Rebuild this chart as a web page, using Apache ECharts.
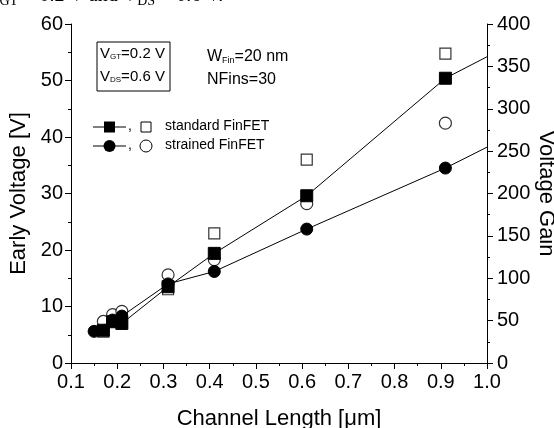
<!DOCTYPE html>
<html>
<head>
<meta charset="utf-8">
<script src="https://cdn.jsdelivr.net/npm/echarts@6/dist/echarts.min.js"></script>
<style>
  html, body { margin: 0; padding: 0; background: #fff; }
  #chart { width: 554px; height: 428px; }
</style>
</head>
<body>
<div id="chart"></div>
<script>
var stdEarlyX = [0.17, 0.19, 0.21, 0.31, 0.41, 0.61, 0.91, 1.0];
var stdEarlyV = [5.8, 7.3, 7.0, 13.5, 19.4, 29.6, 50.4, 54.2];
var strEarlyX = [0.15, 0.19, 0.21, 0.31, 0.41, 0.61, 0.91, 1.0];
var strEarlyV = [5.6, 7.6, 8.3, 14.0, 16.2, 23.7, 34.5, 38.2];
var stdGainX = [0.17, 0.21, 0.31, 0.41, 0.61, 0.91];
var stdGainV = [37, 49, 87, 153, 240, 365];
var strGainX = [0.17, 0.19, 0.21, 0.31, 0.41, 0.61, 0.91];
var strGainV = [49, 57, 61, 104, 122, 188, 283];

var FONT = 'Liberation Sans';

function pairs(xs, ys, lastNoSymbol) {
    var out = [];
    for (var i = 0; i < xs.length; i++) {
        var p = { value: [xs[i], ys[i]] };
        if (lastNoSymbol && i === xs.length - 1) p.symbol = 'none';
        out.push(p);
    }
    return out;
}

var chart = echarts.init(document.getElementById('chart'));
var axisLine = { lineStyle: { color: '#000', width: 1 } };
var tickOut = { show: true, inside: false, length: 6, lineStyle: { color: '#000' } };
var minorOut = { show: true, splitNumber: 2, length: 3, lineStyle: { color: '#000' } };
var labelStyle = { color: '#000', fontSize: 20, fontFamily: FONT };
var nameStyle = { color: '#000', fontSize: 22, fontFamily: FONT };

var option = {
    animation: false,
    backgroundColor: '#fff',
    grid: { left: 71, right: 67, top: 24, bottom: 65, containLabel: false, outerBoundsMode: 'none' },
    xAxis: [{
        type: 'value', position: 'bottom', min: 0.1, max: 1.0, interval: 0.1,
        name: 'Channel Length [\u03bcm]', nameLocation: 'middle', nameGap: 45,
        nameTextStyle: nameStyle,
        axisLine: axisLine, axisTick: tickOut, minorTick: minorOut,
        axisLabel: Object.assign({ margin: 9, formatter: function (v) { return v.toFixed(1); } }, labelStyle),
        splitLine: { show: false }
    }, {
        type: 'value', position: 'top', min: 0.1, max: 1.0, interval: 0.1,
        axisLine: axisLine,
        axisTick: { show: true, inside: true, length: 5, lineStyle: { color: '#000' } },
        minorTick: { show: true, splitNumber: 2, length: 3, lineStyle: { color: '#000' } },
        axisLabel: { show: false }, splitLine: { show: false }
    }],
    yAxis: [{
        type: 'value', position: 'left', min: 0, max: 60, interval: 10,
        name: 'Early Voltage [V]', nameLocation: 'middle', nameGap: 36, nameRotate: 90,
        nameTextStyle: nameStyle,
        axisLine: axisLine, axisTick: tickOut, minorTick: minorOut,
        axisLabel: Object.assign({ margin: 8 }, labelStyle),
        splitLine: { show: false }
    }, {
        type: 'value', position: 'right', min: 0, max: 400, interval: 50,
        name: 'Voltage Gain', nameLocation: 'middle', nameGap: 48, nameRotate: -90,
        nameMoveOverlap: false,
        nameTextStyle: nameStyle,
        axisLine: axisLine, axisTick: tickOut, minorTick: minorOut,
        axisLabel: Object.assign({ margin: 10 }, labelStyle),
        splitLine: { show: false }
    }],
    series: [{
        name: 'standard FinFET Early', type: 'line', xAxisIndex: 0, yAxisIndex: 0,
        data: pairs(stdEarlyX, stdEarlyV, true),
        symbol: 'rect', symbolSize: 12, showAllSymbol: true,
        lineStyle: { color: '#000', width: 1 },
        itemStyle: { color: '#000', borderColor: '#000' }
    }, {
        name: 'strained FinFET Early', type: 'line', xAxisIndex: 0, yAxisIndex: 0,
        data: pairs(strEarlyX, strEarlyV, true),
        symbol: 'circle', symbolSize: 12, showAllSymbol: true,
        lineStyle: { color: '#000', width: 1 },
        itemStyle: { color: '#000', borderColor: '#000' }
    }, {
        name: 'standard FinFET Gain', type: 'scatter', xAxisIndex: 0, yAxisIndex: 1,
        data: pairs(stdGainX, stdGainV, false),
        symbol: 'rect', symbolSize: 11,
        itemStyle: { color: '#fff', borderColor: '#000', borderWidth: 1.2 }
    }, {
        name: 'strained FinFET Gain', type: 'scatter', xAxisIndex: 0, yAxisIndex: 1,
        data: pairs(strGainX, strGainV, false),
        symbol: 'circle', symbolSize: 12,
        itemStyle: { color: '#fff', borderColor: '#000', borderWidth: 1.2 }
    }],
    graphic: [
        // caption cut off at the top of the picture
        {
            type: 'text', left: -15, top: -14,
            style: {
                text: 'V{s|GT} = 0.2 V and V{s|DS} = 0.6 V.',
                font: '20px "Liberation Serif"', fill: '#000',
                rich: { s: { font: '14px "Liberation Serif"', padding: [10, 0, 0, 0] } }
            }
        },
        // bias box
        { type: 'rect', shape: { x: 97, y: 42, width: 73, height: 49 }, style: { fill: 'none', stroke: '#000', lineWidth: 1 } },
        {
            type: 'text', left: 100, top: 46,
            style: { text: 'V{s|GT}=0.2 V', font: '15px "Liberation Sans"', fill: '#000',
                rich: { s: { font: '8px "Liberation Sans"', padding: [7, 0, 0, 0] } } }
        },
        {
            type: 'text', left: 100, top: 69,
            style: { text: 'V{s|DS}=0.6 V', font: '15px "Liberation Sans"', fill: '#000',
                rich: { s: { font: '8px "Liberation Sans"', padding: [7, 0, 0, 0] } } }
        },
        {
            type: 'text', left: 207, top: 49,
            style: { text: 'W{s|Fin}=20 nm', font: '16px "Liberation Sans"', fill: '#000',
                rich: { s: { font: '9px "Liberation Sans"', padding: [7, 0, 0, 0] } } }
        },
        { type: 'text', left: 207, top: 72, style: { text: 'NFins=30', font: '16px "Liberation Sans"', fill: '#000' } },
        // legend
        { type: 'line', shape: { x1: 93, y1: 127, x2: 126, y2: 127 }, style: { stroke: '#000', lineWidth: 1 } },
        { type: 'rect', shape: { x: 104, y: 121.5, width: 11, height: 11 }, style: { fill: '#000' } },
        { type: 'text', left: 128, top: 119, style: { text: ',', font: '14px "Liberation Sans"', fill: '#000' } },
        { type: 'rect', shape: { x: 141, y: 122, width: 10, height: 10 }, style: { fill: '#fff', stroke: '#000', lineWidth: 1 } },
        { type: 'text', left: 165, top: 119, style: { text: 'standard FinFET', font: '14px "Liberation Sans"', fill: '#000' } },
        { type: 'line', shape: { x1: 93, y1: 146, x2: 126, y2: 146 }, style: { stroke: '#000', lineWidth: 1 } },
        { type: 'circle', shape: { cx: 109.5, cy: 146, r: 6 }, style: { fill: '#000' } },
        { type: 'text', left: 128, top: 138, style: { text: ',', font: '14px "Liberation Sans"', fill: '#000' } },
        { type: 'circle', shape: { cx: 146, cy: 146, r: 6 }, style: { fill: '#fff', stroke: '#000', lineWidth: 1 } },
        { type: 'text', left: 165, top: 138, style: { text: 'strained FinFET', font: '14px "Liberation Sans"', fill: '#000' } }
    ]
};
chart.setOption(option);
</script>
</body>
</html>
